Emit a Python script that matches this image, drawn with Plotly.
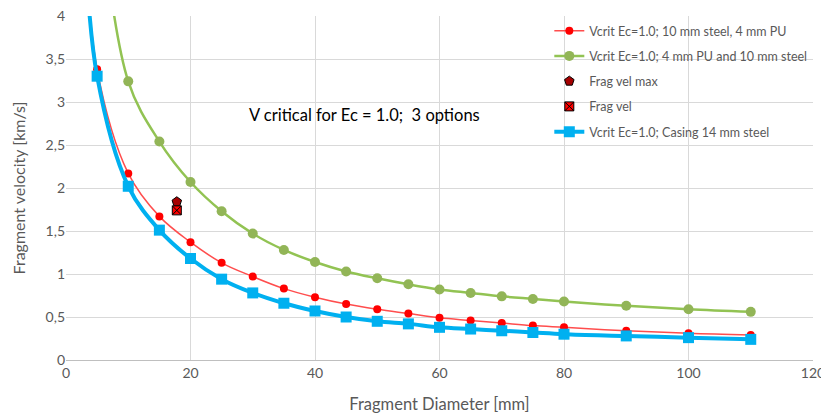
import plotly.graph_objects as go

d_red = [3, 5, 10, 15, 20, 25, 30, 35, 40, 45, 50, 55, 60, 65, 70, 75, 80, 90, 100, 110]
v_red = [5.0, 3.38, 2.17, 1.67, 1.37, 1.13, 0.97, 0.83, 0.73, 0.65, 0.59, 0.54, 0.49, 0.46, 0.43, 0.40, 0.38, 0.34, 0.31, 0.29]

d_green = [5, 10, 15, 20, 25, 30, 35, 40, 45, 50, 55, 60, 65, 70, 75, 80, 90, 100, 110]
v_green = [5.6, 3.24, 2.54, 2.07, 1.73, 1.47, 1.28, 1.14, 1.03, 0.95, 0.88, 0.82, 0.78, 0.74, 0.71, 0.68, 0.63, 0.59, 0.56]

d_blue = [3, 5, 10, 15, 20, 25, 30, 35, 40, 45, 50, 55, 60, 65, 70, 75, 80, 90, 100, 110]
v_blue = [4.9, 3.30, 2.02, 1.51, 1.18, 0.94, 0.78, 0.66, 0.57, 0.50, 0.45, 0.42, 0.38, 0.36, 0.34, 0.32, 0.30, 0.28, 0.26, 0.24]

d_frag_max = [17.8]
v_frag_max = [1.84]
d_frag = [17.8]
v_frag = [1.74]

x_ticks = [0, 20, 40, 60, 80, 100, 120]
y_ticks = [0, 0.5, 1, 1.5, 2, 2.5, 3, 3.5, 4]

FONT = "Lato"
GRAY = "#595959"

fig = go.Figure()
fig.add_trace(go.Scatter(x=d_red, y=v_red, mode="lines+markers", name="Vcrit Ec=1.0; 10 mm steel, 4 mm PU",
                         legendgroup="a",
                         line=dict(color="#ff4d4d", width=1.5, shape="spline"),
                         marker=dict(color="#ff0000", size=8, symbol="circle")))
fig.add_trace(go.Scatter(x=d_green, y=v_green, mode="lines+markers", name="Vcrit Ec=1.0; 4 mm PU and 10 mm steel",
                         legendgroup="b",
                         line=dict(color="#92c353", width=2.5, shape="spline"),
                         marker=dict(color="#92b557", size=10, symbol="circle")))
fig.add_trace(go.Scatter(x=d_frag_max, y=v_frag_max, mode="markers", name="Frag vel max",
                         legendgroup="c",
                         marker=dict(color="#a50000", size=10, symbol="pentagon", line=dict(color="black", width=1))))
fig.add_trace(go.Scatter(x=d_frag, y=v_frag, mode="markers", name="Frag vel",
                         legendgroup="d",
                         marker=dict(color="#ff0000", size=9, symbol="square-x", line=dict(color="black", width=1))))
fig.add_trace(go.Scatter(x=d_blue, y=v_blue, mode="lines+markers", name="Vcrit Ec=1.0; Casing 14 mm steel",
                         legendgroup="e",
                         line=dict(color="#00b0f0", width=4, shape="spline"),
                         marker=dict(color="#00b0f0", size=11, symbol="square")))

fig.add_annotation(x=29, y=2.85, xref="x", yref="y", text="V critical for Ec = 1.0;  3 options",
                   showarrow=False, xanchor="left", font=dict(family=FONT, size=16.5, color="black"))

fig.update_layout(
    width=821, height=410,
    margin=dict(l=58, r=16, t=8, b=58),
    paper_bgcolor="white", plot_bgcolor="white",
    separators=",.",
    font=dict(family=FONT, color=GRAY, size=13),
    showlegend=True,
    legend=dict(x=0.647, y=1.0, xanchor="left", yanchor="top", bgcolor="rgba(255,255,255,0)",
                font=dict(family=FONT, size=12.5, color=GRAY), tracegroupgap=6, itemwidth=30),
)
fig.update_xaxes(range=[0, 120], tickvals=x_ticks, showgrid=True, gridcolor="#d9d9d9", gridwidth=1,
                 zeroline=False, showline=True, linecolor="#bfbfbf", ticks="", automargin=False,
                 ticklabeloverflow="allow",
                 title=dict(text="Fragment Diameter [mm]", font=dict(family=FONT, size=16.5, color=GRAY), standoff=18),
                 tickfont=dict(family=FONT, size=14, color=GRAY))
fig.update_yaxes(range=[0, 4], tickvals=y_ticks, showgrid=True, gridcolor="#d9d9d9", gridwidth=1,
                 zeroline=False, showline=False, ticks="", automargin=False,
                 ticklabeloverflow="allow",
                 title=dict(text="Fragment velocity [km/s]", font=dict(family=FONT, size=16, color=GRAY), standoff=15),
                 tickfont=dict(family=FONT, size=14, color=GRAY))

fig.write_html("out.html")
